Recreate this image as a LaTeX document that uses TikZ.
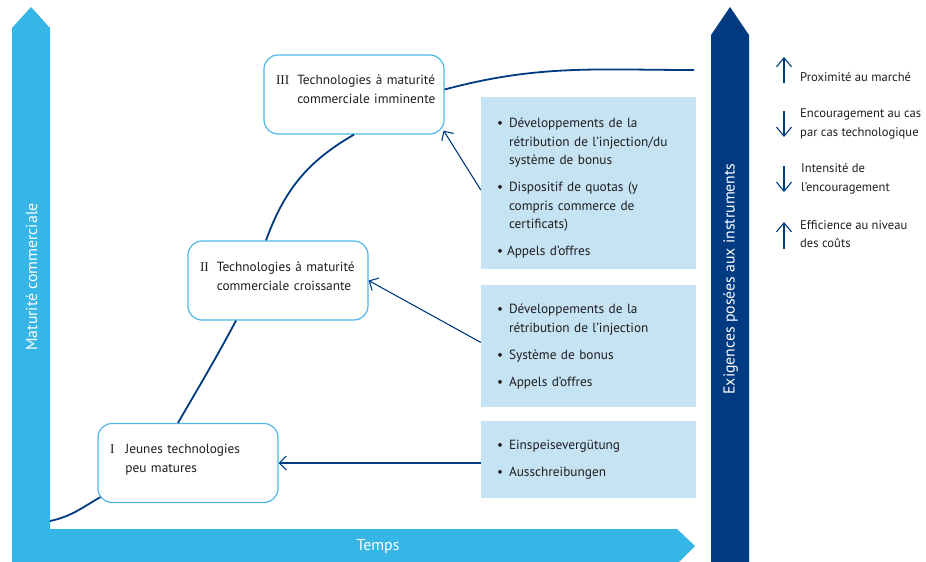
\documentclass[tikz,border=0pt]{standalone}
\usepackage{fontspec}
\setmainfont{PT Sans}
\newfontfamily\numfont{Liberation Serif}
\usepackage{tikz}
\usetikzlibrary{arrows.meta,calc,positioning}

\definecolor{cyanbar}{HTML}{35B6E6}
\definecolor{navy}{HTML}{003A80}
\definecolor{lightbox}{HTML}{C6E3F4}
\definecolor{boxline}{HTML}{4DB8E8}
\definecolor{textdark}{HTML}{1E1E1E}

\tikzset{
  stage/.style={draw=boxline, line width=1.2pt, fill=white, rounded corners=14pt,
    minimum width=180pt, minimum height=79pt, text width=156pt, inner xsep=12pt,
    align=left, text=textdark, font=\fontsize{13.3}{19}\selectfont},
  measure/.style={fill=lightbox, minimum width=215pt, text width=183pt,
    inner xsep=16pt, inner ysep=0pt, align=left, text=textdark,
    font=\fontsize{13.3}{18.5}\selectfont},
  link/.style={draw=navy, line width=1.1pt, -{Straight Barb[length=7pt,width=14pt]}},
  growth/.style={draw=navy, line width=1.8pt},
  legend/.style={anchor=west, inner sep=0pt, align=left, text=textdark,
    font=\fontsize{12.6}{18.5}\selectfont},
  legarrow/.style={draw=navy, line width=1.1pt, -{Straight Barb[length=9pt,width=15pt]}},
  axislabel/.style={text=white, inner sep=0pt, font=\fontsize{15.8}{18}\selectfont}
}

\begin{document}
\begin{tikzpicture}[x=1pt,y=1pt]
  \useasboundingbox (0,0) rectangle (926,-562);
%
  % axes
  \fill [cyanbar] (12,-562) -- (12,-28) -- (31,-7) -- (50,-28) -- (50,-529)
    -- (677,-529) -- (695,-546) -- (679,-562) -- cycle;
  \fill [navy] (711,-562) -- (711,-35) -- (730,-7) -- (749,-35) -- (749,-562) -- cycle;
%
  \node (maturite) [axislabel, rotate=90] at (31.5,-277) {Maturité commerciale};
  \node (temps) [axislabel] at (378,-547) {Temps};
  \node (exigences) [axislabel, rotate=90] at (730.5,-279) {Exigences posées aux instruments};
%
  % stages
  \node (III) [stage] at (354,-94.5) {\raisebox{4pt}[\height][\depth]{\begin{tabular}{@{}l@{\hspace{8pt}}l@{}}
    {\numfont III} & Technologies à maturité\\ & commerciale imminente\end{tabular}}};
  \node (II) [stage] at (278,-280.5) {\raisebox{3.5pt}[\height][\depth]{\begin{tabular}{@{}l@{\hspace{8pt}}l@{}}
    {\numfont II} & Technologies à maturité\\ & commerciale croissante\end{tabular}}};
  \node (I) [stage] at (188,-463) {\raisebox{3.5pt}[\height][\depth]{\begin{tabular}{@{}l@{\hspace{11pt}}l@{}}
    {\numfont I} & Jeunes technologies\\ & peu matures\end{tabular}}};
%
  % instruments
  \node (A) [measure, minimum height=172pt] at (588.5,-183) {\raisebox{-5pt}[\height][\depth]{\begin{tabular}{@{}p{12pt}@{}l@{}}
    \textbullet & Développements de la\\
                & rétribution de l’injection/du\\
                & système de bonus\\[8.5pt]
    \textbullet & Dispositif de quotas (y\\
                & compris commerce de\\
                & certificats)\\[8.5pt]
    \multicolumn{2}{@{}l@{}}{\textbullet\hspace{4pt}Appels d’offres}
  \end{tabular}}};
  \node (B) [measure, minimum height=122pt, below=16pt of A] {\begin{tabular}{@{}p{12pt}@{}l@{}}
    \textbullet & Développements de la\\
                & rétribution de l’injection\\[8.5pt]
    \textbullet & Système de bonus\\[8.5pt]
    \textbullet & Appels d’offres
  \end{tabular}};
  \node (C) [measure, minimum height=77pt, below=13pt of B] {\begin{tabular}{@{}p{12pt}@{}l@{}}
    \textbullet & Einspeisevergütung\\[8.5pt]
    \textbullet & Ausschreibungen
  \end{tabular}};
%
  % growth curve
  \coordinate (start) at (50,-521);
  \coordinate (end) at (694,-70);
  \draw [growth] (start) to [out=12,in=-150] ([xshift=3pt,yshift=6pt]I.south west);
  \draw [growth] ([xshift=-10pt]I.north) to [out=60,in=-118] ([xshift=-42pt]II.south);
  \draw [growth] ([xshift=-12pt]II.north) to [out=70,in=-150] (III.south);
  \draw [growth] ([yshift=5pt]III.east) to [out=15,in=180] (end);
%
  % links
  \draw [link] ([yshift=-7pt]A.west) -- ([shift={(-1pt,4pt)}]III.south east);
  \draw [link] ([yshift=4pt]B.west) -- (II.east);
  \draw [link] (C.west |- I.east) -- (I.east);
%
  % legend
  \node (prox) [legend] at (800,-77) {Proximité au marché};
  \node (enc)  [legend] at (800,-124) {Encouragement au cas\\par cas technologique};
  \node (int)  [legend] at (801,-179) {Intensité de\\l’encouragement};
  \node (eff)  [legend] at (800,-234) {Efficience au niveau\\des coûts};
%
  \draw [legarrow] ([shift={(-16pt,-6pt)}]prox.west) -- ++(0,26);
  \draw [legarrow] ([shift={(-16pt,13pt)}]enc.west) -- ++(0,-26);
  \draw [legarrow] ([shift={(-17pt,13pt)}]int.west) -- ++(0,-26);
  \draw [legarrow] ([shift={(-16pt,-15pt)}]eff.west) -- ++(0,27);
%
\end{tikzpicture}
\end{document}
